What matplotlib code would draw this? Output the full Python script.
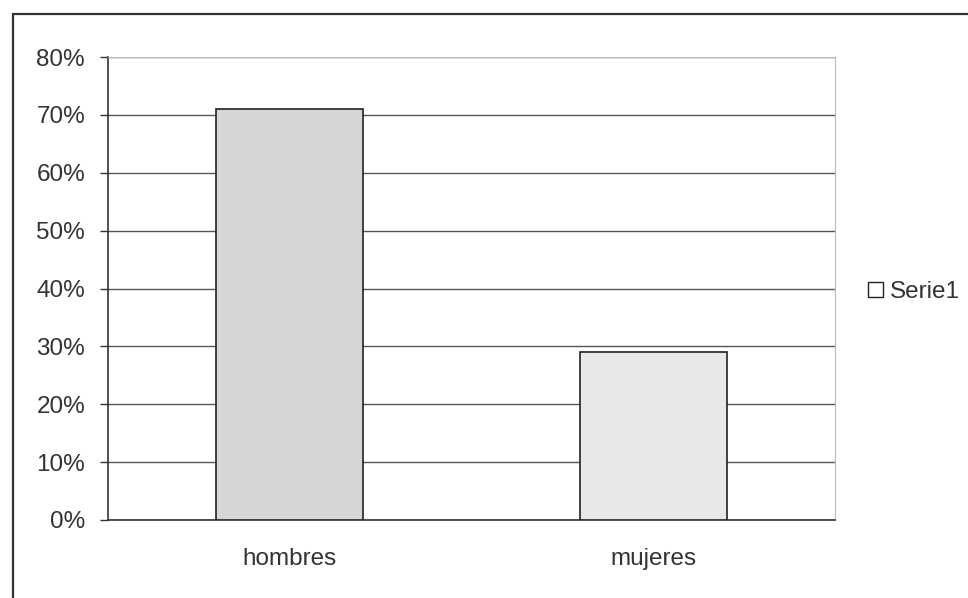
import matplotlib
matplotlib.use("Agg")
import matplotlib.pyplot as plt
from matplotlib.patches import Rectangle
from matplotlib.ticker import FuncFormatter

categories = ["hombres", "mujeres"]
values = [0.71, 0.29]
yticks = [0, 0.1, 0.2, 0.3, 0.4, 0.5, 0.6, 0.7, 0.8]
series_name = "Serie1"

plt.rcParams['font.family'] = ['Liberation Sans', 'DejaVu Sans']

fig = plt.figure(figsize=(9.68, 5.98), dpi=100)
W, H = 968, 598

# outer frame
fig.patches.append(Rectangle((13 / W, -0.1), 1.2, 1 - 14 / H + 0.1,
                             transform=fig.transFigure, fill=False,
                             edgecolor='#333333', linewidth=1.6))

ax = fig.add_axes([108 / W, 1 - 520 / H, (835 - 108) / W, (520 - 57) / H])
x = range(len(categories))
ax.bar(x, values, width=0.405, color=['#d6d6d6', '#e8e8e8'],
       edgecolor='#222222', linewidth=1.2, zorder=3, label=series_name)

ax.set_xlim(-0.5, 1.5)
ax.set_ylim(0, 0.8)
ax.set_yticks(yticks)
ax.yaxis.set_major_formatter(FuncFormatter(lambda v, p: f"{round(v * 100)}%"))
ax.set_xticks(list(x))
ax.set_xticklabels(categories)
ax.grid(axis='y', color='#555555', linewidth=1.0, zorder=0)
ax.set_axisbelow(True)

for s in ['top', 'right']:
    ax.spines[s].set_color('#bbbbbb')
    ax.spines[s].set_linewidth(0.8)
ax.spines['left'].set_color('#333333')
ax.spines['bottom'].set_color('#333333')
ax.spines['left'].set_linewidth(1.2)
ax.spines['bottom'].set_linewidth(1.2)

ax.tick_params(axis='y', length=6, width=1.0, color='#333333', pad=10.5,
               labelsize=17.5, labelcolor='#333333')
ax.tick_params(axis='x', length=0, pad=20, labelsize=17.5, labelcolor='#333333')

fig.legend(loc='center left', bbox_to_anchor=(846 / W, 1 - 292 / H),
           frameon=False, fontsize=17.5, handlelength=0.62, handleheight=0.62,
           handletextpad=0.3, labelcolor='#333333',
           handles=[Rectangle((0, 0), 1, 1, facecolor='white',
                              edgecolor='#222222', linewidth=1.0)],
           labels=[series_name])

fig.savefig("out.png", dpi=100)
